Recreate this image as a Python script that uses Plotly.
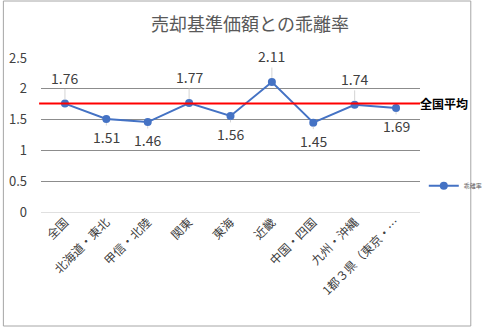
import plotly.graph_objects as go

categories = ["全国", "北海道・東北", "甲信・北陸", "関東", "東海", "近畿",
              "中国・四国", "九州・沖縄", "1都３県（東京・…"]
values = [1.76, 1.51, 1.46, 1.77, 1.56, 2.11, 1.45, 1.74, 1.69]
label_side = ["above", "below", "below", "above", "below", "above", "below", "above", "below"]
national_avg = 1.76
series_name = "乖離率"
title_text = "売却基準価額との乖離率"
avg_label = "全国平均"
y_ticks = [0, 0.5, 1, 1.5, 2, 2.5]
y_ticklabels = ["0", "0.5", "1", "1.5", "2", "2.5"]

FONT = "Noto Sans CJK JP"
L, R, T, B = 41, 56, 58, 116
W, H = 500, 328
pw, ph = W - L - R, H - T - B

fig = go.Figure()
fig.add_trace(go.Scatter(
    x=categories, y=values, mode="lines+markers", name=series_name,
    line=dict(color="#4472C4", width=2),
    marker=dict(color="#4472C4", size=8),
))

for c, v, s in zip(categories, values, label_side):
    fig.add_annotation(
        x=c, y=v, text=f"{v:.2f}", showarrow=True, arrowhead=0,
        arrowwidth=1, arrowcolor="#d4d4d4", standoff=4,
        ax=0, ay=-26 if s == "above" else 18,
        font=dict(family=FONT, size=14, color="#404040"),
    )

fig.add_shape(type="line", xref="paper", yref="y", x0=-0.005, x1=1.0,
              y0=national_avg, y1=national_avg, line=dict(color="#FF0000", width=2))
fig.add_annotation(xref="paper", yref="y", x=1.0, y=national_avg, xanchor="left",
                   text=f"<b>{avg_label}</b>", showarrow=False, xshift=-2,
                   font=dict(family=FONT, size=12, color="#000000"))

# outer chart border
fig.add_shape(type="rect", xref="paper", yref="paper", layer="below",
              x0=(1 - L) / pw, x1=(498 - L) / pw,
              y0=(H - B - 326) / ph, y1=(H - B - 1) / ph,
              line=dict(color="#a6a6a6", width=1))

fig.update_layout(
    width=W, height=H,
    margin=dict(l=L, r=R, t=T, b=B),
    paper_bgcolor="white", plot_bgcolor="white",
    title=dict(text=title_text, x=0.5, xanchor="center", y=1 - 25 / H, yanchor="middle",
               font=dict(family=FONT, size=18, color="#595959")),
    font=dict(family=FONT, color="#595959"),
    showlegend=True,
    legend=dict(x=1.01, xanchor="left", y=0.17, yanchor="middle",
                font=dict(family=FONT, size=6, color="#595959"),
                itemwidth=30, bgcolor="rgba(0,0,0,0)"),
    xaxis=dict(type="category", tickangle=-45, showgrid=False, showline=False,
               ticks="", automargin=False,
               tickfont=dict(family=FONT, size=12, color="#404040")),
    yaxis=dict(range=[0, 2.5], tickvals=y_ticks, ticktext=y_ticklabels,
               showgrid=True, gridcolor="#8c8c8c", automargin=False,
               gridwidth=1, zeroline=True, zerolinecolor="#e0e0e0", zerolinewidth=1,
               showline=False, ticks="", ticklabelstandoff=13,
               tickfont=dict(family=FONT, size=13, color="#404040")),
)

fig.write_html("out.html")
